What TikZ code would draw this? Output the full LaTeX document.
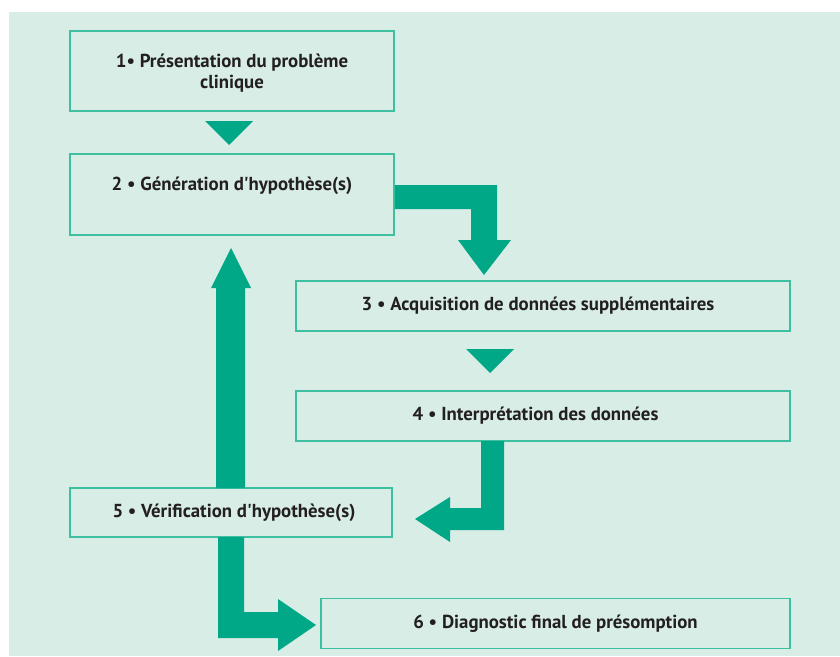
\documentclass[tikz,border=0pt]{standalone}
\usepackage{fontspec}
\setmainfont{PT Sans}
\definecolor{panel}{HTML}{D7EDE6}
\definecolor{frame}{HTML}{3DBFA0}
\definecolor{flow}{HTML}{00A887}
\definecolor{ink}{HTML}{231F20}
\newcommand{\apos}{\textquotesingle}
\tikzset{
  label text/.style={font=\fontsize{18.8}{21}\selectfont\bfseries, text=ink, align=center},
  stepbox/.style={draw=frame, line width=1.5pt, fill=panel, inner sep=0pt, label text},
  fatarrow/.style={fill=flow, draw=none}
}
\begin{document}
\begin{tikzpicture}[x=1pt,y=-1pt]
  % page and panel
  \useasboundingbox (0,0) rectangle (840,656);
  \fill[white] (0,0) rectangle (840,656);
  \fill[panel] (9,12) rectangle (840,656);

  % steps (boxes 1 and 2 carry their text in separate nodes, set a little off-centre)
  \node[stepbox, minimum width=324pt, minimum height=80pt] (b1) at (232,71) {};
  \node[label text] (t1) at (b1.center |- 0,73) {1• Présentation du problème\\clinique};
  \node[stepbox, minimum width=324pt, minimum height=81pt] (b2) at (232,194.5) {};
  \node[label text] (t2) at (b2.center |- 0,186) {2 • Génération d\apos hypothèse(s)};
  \node[stepbox, minimum width=494pt, minimum height=50pt] (b3) at (543,306)
    {\hspace*{-10pt}3 • Acquisition de données supplémentaires};
  \node[stepbox, minimum width=494pt, minimum height=50pt] (b4) at (543,416)
    {\hspace*{-15pt}4 • Interprétation des données};
  \node[stepbox, minimum width=322pt, minimum height=49pt] (b5) at (231,512.5)
    {\hspace*{6pt}5 • Vérification d\apos hypothèse(s)};
  \node[stepbox, minimum width=469pt, minimum height=50pt] (b6) at (555.5,623.5)
    {6 • Diagnostic final de présomption};

  % small pointers between consecutive steps
  \fill[fatarrow] (205,121) -- (253,121) -- (229,145) -- cycle;
  \fill[fatarrow] (466,349) -- (514,349) -- (490,373) -- cycle;

  % 2 -> 3
  \fill[fatarrow] (b2.east |- 0,185) -- (497,185) -- (497,240) -- (511,240)
    -- (484,275) -- (458,240) -- (471,240) -- (471,209) -- (b2.east |- 0,209) -- cycle;

  % 4 -> 5
  \fill[fatarrow] (481,441) -- (504,441) -- (504,530) -- (450,530) -- (450,542)
    -- (415,519) -- (450,497) -- (450,508) -- (481,508) -- cycle;

  % 5 -> 2
  \fill[fatarrow] (216,488) -- (216,288) -- (211,288) -- (231,248) -- (251,288)
    -- (245,288) -- (245,488) -- cycle;

  % 5 -> 6
  \fill[fatarrow] (218,537) -- (244,537) -- (244,612) -- (278,612) -- (278,599)
    -- (316,625) -- (278,651) -- (278,638) -- (218,638) -- cycle;
\end{tikzpicture}
\end{document}
